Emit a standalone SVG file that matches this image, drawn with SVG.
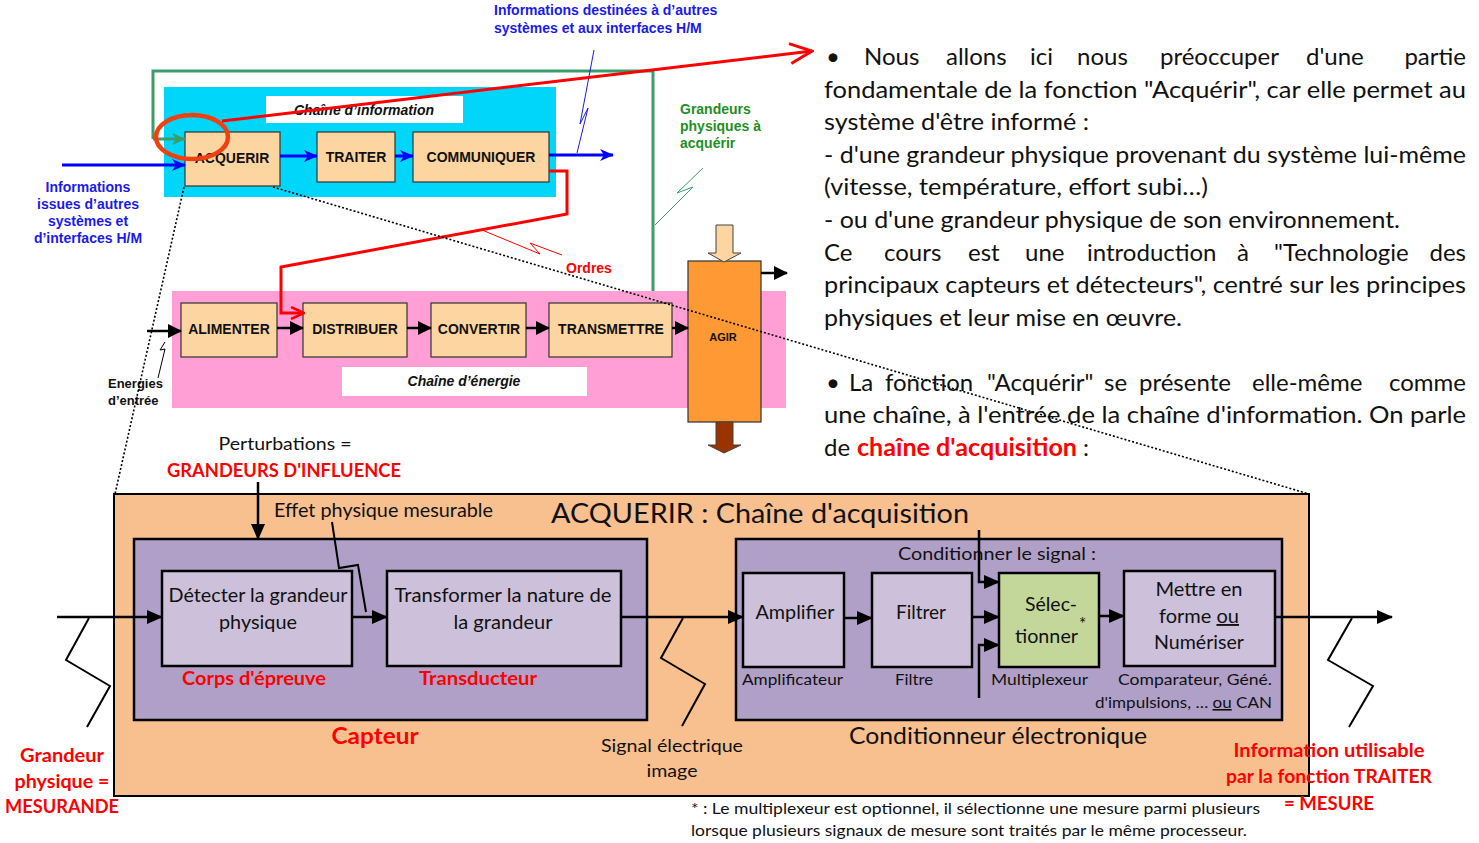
<svg xmlns="http://www.w3.org/2000/svg" width="1479" height="843" viewBox="0 0 1479 843">
<defs>
<style>
.box{fill:#fdd5a0;stroke:#333;stroke-width:1.2}
.bt{font-family:"Liberation Sans",Arial,sans-serif;font-weight:bold;font-size:14px;fill:#111;text-anchor:middle}
.ar{font-family:"Liberation Sans",Arial,sans-serif;font-weight:bold;font-size:14px}
.cal{font-family:Lato,"Open Sans",sans-serif;fill:#111}
.red{fill:#f00;font-weight:bold}
.mid{text-anchor:middle}
.dot{fill:none;stroke:#000;stroke-width:1.6;stroke-dasharray:2 2}
.pbox{fill:#ccc0da;stroke:#000;stroke-width:2.5}
.pout{fill:#b0a0c8;stroke:#000;stroke-width:2.5}
.blk{stroke:#000;stroke-width:2.5;fill:none}
.zz{stroke:#000;stroke-width:2;fill:none}
.rt{font-family:Lato,"Open Sans",sans-serif;font-size:24px;fill:#111}
.blu{stroke:#0000ff;stroke-width:3;fill:none}
</style>
<marker id="mBlue" viewBox="0 0 14 12" refX="13" refY="6" markerWidth="14" markerHeight="12" markerUnits="userSpaceOnUse" orient="auto"><path d="M0,0L14,6L0,12L4,6z" fill="#0000ff"/></marker>
<marker id="mGreen" viewBox="0 0 14 12" refX="13" refY="6" markerWidth="14" markerHeight="12" markerUnits="userSpaceOnUse" orient="auto"><path d="M0,0L14,6L0,12L4,6z" fill="#3c9c6c"/></marker>
<marker id="mBlk" viewBox="0 0 16 14" refX="15" refY="7" markerWidth="16" markerHeight="14" markerUnits="userSpaceOnUse" orient="auto"><path d="M0,0L16,7L0,14z" fill="#000"/></marker>
<marker id="mBlkS" viewBox="0 0 14 14" refX="13" refY="7" markerWidth="14" markerHeight="14" markerUnits="userSpaceOnUse" orient="auto"><path d="M0,0L14,7L0,14z" fill="#000"/></marker>
<marker id="mRedOpen" viewBox="0 0 26 24" refX="24" refY="12" markerWidth="26" markerHeight="24" markerUnits="userSpaceOnUse" orient="auto"><path d="M2,2L24,12L2,22" fill="none" stroke="#f00" stroke-width="3"/></marker>
<marker id="mRed" viewBox="0 0 16 14" refX="14" refY="7" markerWidth="16" markerHeight="14" markerUnits="userSpaceOnUse" orient="auto"><path d="M2,1L15,7L2,13" fill="none" stroke="#f00" stroke-width="2.5"/></marker>
</defs>

<!-- ===== Top: chaîne fonctionnelle ===== -->
<g id="frame-green">
<path d="M153,139V71H653V291" fill="none" stroke="#3c9c6c" stroke-width="3"/>
</g>
<g id="chaine-information">
<rect x="164" y="87" width="392" height="110" fill="#00d6fa"/>
<rect x="266" y="96" width="197" height="27" fill="#fff"/>
<text x="364" y="115" class="ar mid" font-style="italic" fill="#111">Chaîne d’information</text>
</g>
<g id="chaine-energie">
<rect x="172" y="291" width="614" height="117" fill="#ff9fd5"/>
<rect x="342" y="367" width="245" height="29" fill="#fff"/>
<text x="464" y="386" class="ar mid" font-style="italic" fill="#111">Chaîne d’énergie</text>
</g>
<g id="acquerir"><rect class="box" x="185" y="132" width="95" height="54"/><text class="bt" x="232" y="163">ACQUERIR</text></g>
<g id="traiter"><rect class="box" x="317" y="132" width="78" height="50"/><text class="bt" x="356" y="162">TRAITER</text></g>
<g id="communiquer"><rect class="box" x="413" y="132" width="136" height="50"/><text class="bt" x="481" y="162">COMMUNIQUER</text></g>
<g id="alimenter"><rect class="box" x="181" y="303" width="96" height="54"/><text class="bt" x="229" y="334">ALIMENTER</text></g>
<g id="distribuer"><rect class="box" x="303" y="303" width="104" height="54"/><text class="bt" x="355" y="334">DISTRIBUER</text></g>
<g id="convertir"><rect class="box" x="431" y="303" width="95" height="54"/><text class="bt" x="479" y="334">CONVERTIR</text></g>
<g id="transmettre"><rect class="box" x="549" y="303" width="123" height="54"/><text class="bt" x="611" y="334">TRANSMETTRE</text></g>
<g id="agir">
<rect x="688" y="261" width="73" height="161" fill="#ff9933" stroke="#333" stroke-width="1.2"/>
<text x="723" y="341" class="ar mid" style="font-size:11px" fill="#111">AGIR</text>
<polygon points="716,225 733,225 733,253 741,253 724,262 708,253 716,253" fill="#fdd5a0" stroke="#444" stroke-width="1"/>
<polygon points="716,422 733,422 733,445 741,445 724,453 708,445 716,445" fill="#993300" stroke="#444" stroke-width="1"/>
</g>

<g id="labels-top">
<text class="ar" fill="#1a1aee"><tspan x="494" y="15">Informations destinées à d’autres</tspan><tspan x="494" y="33">systèmes et aux interfaces H/M</tspan></text>
<text class="ar mid" fill="#1a1aee"><tspan x="88" y="192">Informations</tspan><tspan x="88" y="209">issues d’autres</tspan><tspan x="88" y="226">systèmes et</tspan><tspan x="88" y="243">d’interfaces H/M</tspan></text>
<text class="ar" fill="#1f8f1f"><tspan x="680" y="114">Grandeurs</tspan><tspan x="680" y="131">physiques à</tspan><tspan x="680" y="148">acquérir</tspan></text>
<text class="ar" x="566" y="273" fill="#f00">Ordres</text>
<text class="ar" style="font-size:13px" fill="#111"><tspan x="108" y="388">Energies</tspan><tspan x="108" y="405">d’entrée</tspan></text>
</g>

<g id="connectors-top">
<line x1="62" y1="165" x2="185" y2="165" class="blu" marker-end="url(#mBlue)"/>
<line x1="280" y1="156" x2="317" y2="156" class="blu" marker-end="url(#mBlue)"/>
<line x1="395" y1="156" x2="413" y2="156" class="blu" marker-end="url(#mBlue)"/>
<line x1="549" y1="155" x2="613" y2="155" class="blu" marker-end="url(#mBlue)"/>
<polyline points="577,153 588,108 580,124 594,50" fill="none" stroke="#1a1aee" stroke-width="1"/>
<line x1="153" y1="139" x2="185" y2="139" stroke="#3c9c6c" stroke-width="3" marker-end="url(#mGreen)"/>
<polyline points="655,225 693,187 677,193 703,168" fill="none" stroke="#3c9c6c" stroke-width="1"/>
<path d="M549,171H567V214L281,267V313H303" fill="none" stroke="#f00" stroke-width="3" marker-end="url(#mRed)"/>
<polyline points="482,230 540,254 530,243 562,255" fill="none" stroke="#f00" stroke-width="1"/>
<line x1="147" y1="331" x2="181" y2="331" class="blk" marker-end="url(#mBlkS)"/>
<polyline points="165,342 160,350 165,349 158,378" fill="none" stroke="#000" stroke-width="1"/>
<line x1="277" y1="328" x2="303" y2="328" class="blk" marker-end="url(#mBlkS)"/>
<line x1="407" y1="328" x2="431" y2="328" class="blk" marker-end="url(#mBlkS)"/>
<line x1="526" y1="328" x2="549" y2="328" class="blk" marker-end="url(#mBlkS)"/>
<line x1="672" y1="328" x2="688" y2="328" class="blk" marker-end="url(#mBlkS)"/>
<line x1="761" y1="273" x2="787" y2="273" class="blk" marker-end="url(#mBlkS)"/>
<ellipse cx="192" cy="137" rx="36" ry="22" fill="none" stroke="#f04010" stroke-width="4.5"/>
<line x1="222" y1="121" x2="812" y2="51" stroke="#f00" stroke-width="3" marker-end="url(#mRedOpen)"/>
</g>

<!-- ===== Right text ===== -->
<g id="texte-droite" class="rt">
<text y="65"><tspan x="826">•</tspan><tspan x="864">Nous</tspan><tspan x="946">allons</tspan><tspan x="1030">ici</tspan><tspan x="1077">nous</tspan><tspan x="1160">préoccuper</tspan><tspan x="1306">d'une</tspan></text>
<text y="65" x="1466" text-anchor="end">partie</text>
<text x="824" y="98" textLength="642" lengthAdjust="spacingAndGlyphs">fondamentale de la fonction "Acquérir", car elle permet au</text>
<text x="824" y="130" textLength="265" lengthAdjust="spacingAndGlyphs">système d'être informé :</text>
<text x="824" y="163" textLength="642" lengthAdjust="spacingAndGlyphs">- d'une grandeur physique provenant du système lui-même</text>
<text x="824" y="195" textLength="384" lengthAdjust="spacingAndGlyphs">(vitesse, température, effort subi…)</text>
<text x="824" y="228" textLength="576" lengthAdjust="spacingAndGlyphs">- ou d'une grandeur physique de son environnement.</text>
<text y="261"><tspan x="824">Ce</tspan><tspan x="884">cours</tspan><tspan x="968">est</tspan><tspan x="1025">une</tspan><tspan x="1087">introduction</tspan><tspan x="1237">à</tspan><tspan x="1274">"Technologie</tspan></text>
<text y="261" x="1466" text-anchor="end">des</text>
<text x="824" y="293" textLength="642" lengthAdjust="spacingAndGlyphs">principaux capteurs et détecteurs", centré sur les principes</text>
<text x="824" y="326" textLength="358" lengthAdjust="spacingAndGlyphs">physiques et leur mise en œuvre.</text>
<text y="391"><tspan x="826">•</tspan><tspan x="849">La</tspan><tspan x="885">fonction</tspan><tspan x="987">"Acquérir"</tspan><tspan x="1104">se</tspan><tspan x="1139">présente</tspan><tspan x="1252">elle-même</tspan></text>
<text y="391" x="1466" text-anchor="end">comme</text>
<text x="824" y="423" textLength="642" lengthAdjust="spacingAndGlyphs">une chaîne, à l'entrée de la chaîne d'information. On parle</text>
<text y="456"><tspan x="824">de</tspan><tspan x="857" class="red" textLength="220" lengthAdjust="spacingAndGlyphs">chaîne d'acquisition</tspan><tspan x="1083">:</tspan></text>
</g>

<!-- ===== Bottom: chaîne d'acquisition ===== -->
<g id="acquisition">
<rect x="114" y="494" width="1195" height="302" fill="#f8bf8f" stroke="#000" stroke-width="2"/>
<text class="cal" x="551" y="523" font-size="27" textLength="418" lengthAdjust="spacingAndGlyphs">ACQUERIR : Chaîne d'acquisition</text>
</g>
<g id="capteur">
<rect class="pout" x="134" y="539" width="513" height="181"/>
<text class="cal red mid" x="375" y="744" font-size="23" textLength="87" lengthAdjust="spacingAndGlyphs">Capteur</text>
</g>
<g id="detecter">
<rect class="pbox" x="162" y="571" width="190" height="95"/>
<text class="cal mid" font-size="19"><tspan x="258" y="602" textLength="179" lengthAdjust="spacingAndGlyphs">Détecter la grandeur</tspan><tspan x="258" y="629" textLength="78" lengthAdjust="spacingAndGlyphs">physique</tspan></text>
<text class="cal red mid" x="254" y="685" font-size="19" textLength="144" lengthAdjust="spacingAndGlyphs">Corps d'épreuve</text>
</g>
<g id="transformer">
<rect class="pbox" x="387" y="571" width="234" height="95"/>
<text class="cal mid" font-size="19"><tspan x="503" y="602" textLength="217" lengthAdjust="spacingAndGlyphs">Transformer la nature de</tspan><tspan x="503" y="629" textLength="99" lengthAdjust="spacingAndGlyphs">la grandeur</tspan></text>
<text class="cal red mid" x="478" y="685" font-size="19" textLength="118" lengthAdjust="spacingAndGlyphs">Transducteur</text>
</g>
<g id="conditionneur">
<rect class="pout" x="736" y="539" width="546" height="181"/>
<text class="cal" x="898" y="560" font-size="18" textLength="198" lengthAdjust="spacingAndGlyphs">Conditionner le signal :</text>
<text class="cal" x="849" y="744" font-size="23" textLength="298" lengthAdjust="spacingAndGlyphs">Conditionneur électronique</text>
</g>
<g id="amplifier">
<rect class="pbox" x="743" y="573" width="101" height="94"/>
<text class="cal mid" x="795" y="619" font-size="19" textLength="79" lengthAdjust="spacingAndGlyphs">Amplifier</text>
<text class="cal" x="742" y="685" font-size="16" textLength="101" lengthAdjust="spacingAndGlyphs">Amplificateur</text>
</g>
<g id="filtrer">
<rect class="pbox" x="872" y="573" width="100" height="94"/>
<text class="cal mid" x="921" y="619" font-size="19" textLength="50" lengthAdjust="spacingAndGlyphs">Filtrer</text>
<text class="cal" x="895" y="685" font-size="16" textLength="38" lengthAdjust="spacingAndGlyphs">Filtre</text>
</g>
<g id="selectionner">
<rect x="999" y="573" width="100" height="94" fill="#c4d79b" stroke="#000" stroke-width="2.5"/>
<text class="cal" font-size="19"><tspan x="1025" y="611" textLength="52" lengthAdjust="spacingAndGlyphs">Sélec-</tspan><tspan x="1015" y="643" textLength="63" lengthAdjust="spacingAndGlyphs">tionner</tspan></text>
<text class="cal" x="1079" y="630" font-size="17">*</text>
<text class="cal" x="991" y="685" font-size="16" textLength="97" lengthAdjust="spacingAndGlyphs">Multiplexeur</text>
</g>
<g id="mettre-en-forme">
<rect class="pbox" x="1124" y="571" width="151" height="95"/>
<text class="cal mid" font-size="19"><tspan x="1199" y="596" textLength="87" lengthAdjust="spacingAndGlyphs">Mettre en</tspan><tspan x="1199" y="623" textLength="80" lengthAdjust="spacingAndGlyphs">forme <tspan text-decoration="underline">ou</tspan></tspan><tspan x="1199" y="649" textLength="90" lengthAdjust="spacingAndGlyphs">Numériser</tspan></text>
<text class="cal" font-size="16"><tspan x="1118" y="685" textLength="154" lengthAdjust="spacingAndGlyphs">Comparateur, Géné.</tspan><tspan x="1095" y="708" textLength="177" lengthAdjust="spacingAndGlyphs">d'impulsions, … <tspan text-decoration="underline">ou</tspan> CAN</tspan></text>
</g>

<g id="labels-bottom">
<text class="cal mid" x="285" y="450" font-size="18" textLength="133" lengthAdjust="spacingAndGlyphs">Perturbations =</text>
<text class="cal red mid" x="284" y="477" font-size="18" textLength="234" lengthAdjust="spacingAndGlyphs">GRANDEURS D'INFLUENCE</text>
<text class="cal" x="274" y="517" font-size="19" textLength="219" lengthAdjust="spacingAndGlyphs">Effet physique mesurable</text>
<text class="cal red mid" font-size="19"><tspan x="62" y="762" textLength="84" lengthAdjust="spacingAndGlyphs">Grandeur</tspan><tspan x="62" y="788" textLength="95" lengthAdjust="spacingAndGlyphs">physique =</tspan><tspan x="62" y="813" textLength="114" lengthAdjust="spacingAndGlyphs">MESURANDE</tspan></text>
<text class="cal mid" font-size="18"><tspan x="672" y="752" textLength="142" lengthAdjust="spacingAndGlyphs">Signal électrique</tspan><tspan x="672" y="777" textLength="51" lengthAdjust="spacingAndGlyphs">image</tspan></text>
<text class="cal red mid" font-size="18"><tspan x="1329" y="757" textLength="191" lengthAdjust="spacingAndGlyphs">Information utilisable</tspan><tspan x="1329" y="783" textLength="206" lengthAdjust="spacingAndGlyphs">par la fonction TRAITER</tspan><tspan x="1329" y="810" textLength="90" lengthAdjust="spacingAndGlyphs">= MESURE</tspan></text>
<text class="cal" font-size="15"><tspan x="691" y="814" textLength="569" lengthAdjust="spacingAndGlyphs">* : Le multiplexeur est optionnel, il sélectionne une mesure parmi plusieurs</tspan><tspan x="691" y="836" textLength="556" lengthAdjust="spacingAndGlyphs">lorsque plusieurs signaux de mesure sont traités par le même processeur.</tspan></text>
</g>

<g id="connectors-bottom">
<line x1="258" y1="482" x2="258" y2="539" class="blk" marker-end="url(#mBlk)"/>
<line x1="57" y1="617" x2="162" y2="617" class="blk" marker-end="url(#mBlk)"/>
<line x1="352" y1="617" x2="387" y2="617" class="blk" marker-end="url(#mBlk)"/>
<line x1="621" y1="617" x2="743" y2="617" class="blk" marker-end="url(#mBlk)"/>
<line x1="844" y1="618" x2="872" y2="618" class="blk" marker-end="url(#mBlk)"/>
<line x1="972" y1="617" x2="999" y2="617" class="blk" marker-end="url(#mBlk)"/>
<path d="M979,530V582H999" class="blk" marker-end="url(#mBlk)"/>
<path d="M979,698V645H999" class="blk" marker-end="url(#mBlk)"/>
<line x1="1099" y1="616" x2="1124" y2="616" class="blk" marker-end="url(#mBlk)"/>
<line x1="1275" y1="617" x2="1392" y2="617" class="blk" marker-end="url(#mBlk)"/>
<polyline class="zz" points="89,618 66,660 110,686 87,727"/>
<polyline class="zz" points="683,618 661,658 705,684 682,726"/>
<polyline class="zz" points="1352,618 1328,660 1373,686 1349,727"/>
<polyline class="zz" stroke-width="1.5" points="332,522 339,568 358,565 366,612"/>
</g>

<g id="zoom-lines">
<line class="dot" x1="184" y1="187" x2="115" y2="494"/>
<line class="dot" x1="273" y1="187" x2="1309" y2="494"/>
</g>
</svg>
